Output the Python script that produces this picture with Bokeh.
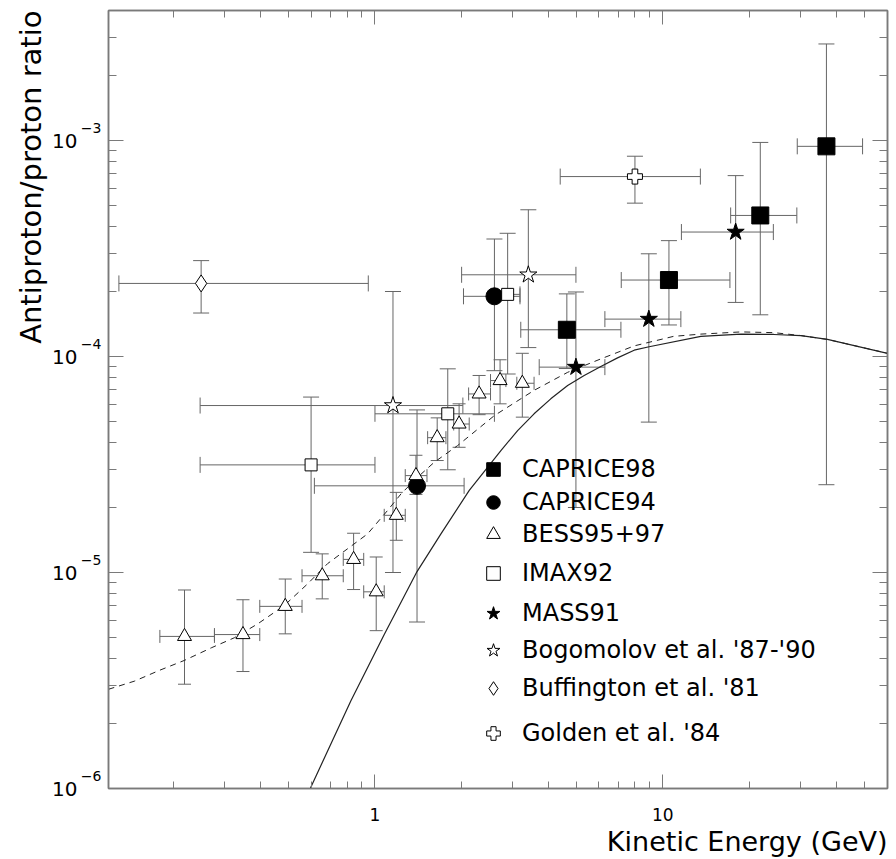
from bokeh.plotting import figure
from bokeh.models import (ColumnDataSource, Whisker, TeeHead, LogAxis, Range1d, Title, LogScale,
                          Legend, LegendItem, FixedTicker, CustomJSTickFormatter)
from bokeh.embed import file_html
from bokeh.resources import INLINE

FONT = "DejaVu Sans"
ERR = "#666666"
AX = "#7a7a7a"

# ---------------- data ----------------
# CAPRICE98
c98_x = [4.64, 10.5, 21.8, 37.0]
c98_y = [1.33e-4, 2.26e-4, 4.5e-4, 9.4e-4]
c98_xlo = [3.21, 7.17, 17.2, 29.3]
c98_xhi = [7.15, 17.1, 29.2, 49.4]
c98_ylo = [8.8e-5, 1.40e-4, 1.56e-4, 2.55e-5]
c98_yhi = [1.95e-4, 3.44e-4, 9.8e-4, 2.8e-3]

# CAPRICE94
c94_x = [1.40, 2.60]
c94_y = [2.52e-5, 1.90e-4]
c94_xlo = [0.616, 2.03]
c94_xhi = [2.04, 3.19]
c94_ylo = [5.9e-6, 8.6e-5]
c94_yhi = [5.66e-5, 3.5e-4]

# BESS95+97
bess_x = [0.218, 0.348, 0.488, 0.656, 0.843, 1.01, 1.186, 1.388, 1.645, 1.96, 2.30, 2.72, 3.25]
bess_y = [5.06e-6, 5.16e-6, 6.97e-6, 9.66e-6, 1.15e-5, 8.14e-6, 1.84e-5, 2.81e-5, 4.21e-5,
          4.87e-5, 6.71e-5, 7.74e-5, 7.52e-5]
bess_xlo = [0.179, 0.277, 0.398, 0.558, 0.776, 0.914, 1.077, 1.274, 1.524, 1.877, 2.115, 2.52, 3.11]
bess_xhi = [0.277, 0.398, 0.558, 0.776, 0.914, 1.077, 1.274, 1.516, 1.764, 2.125, 2.52, 2.85, 3.57]
bess_ylo = [3.04e-6, 3.48e-6, 5.2e-6, 7.55e-6, 8.34e-6, 5.38e-6, 1.41e-5, 2.3e-5, 3.3e-5,
            3.80e-5, 5.38e-5, 6.04e-5, 5.24e-5]
bess_yhi = [8.3e-6, 7.48e-6, 9.33e-6, 1.22e-5, 1.52e-5, 1.18e-5, 2.35e-5, 3.49e-5, 5.2e-5,
            6.04e-5, 8.17e-5, 9.66e-5, 1.035e-4]

# IMAX92
imax_x = [0.60, 1.79, 2.89]
imax_y = [3.15e-5, 5.43e-5, 1.94e-4]
imax_xlo = [0.247, 1.0, 2.60]
imax_xhi = [1.0, 2.60, 3.19]
imax_ylo = [1.24e-5, 2.99e-5, 8.3e-5]
imax_yhi = [6.49e-5, 8.77e-5, 3.72e-4]

# MASS91
mass_x = [4.99, 8.94, 17.9]
mass_y = [8.93e-5, 1.49e-4, 3.77e-4]
mass_xlo = [3.72, 6.29, 11.6]
mass_xhi = [6.29, 11.55, 24.2]
mass_ylo = [2.0e-5, 4.97e-5, 1.78e-4]
mass_yhi = [1.99e-4, 2.99e-4, 6.88e-4]

# Bogomolov et al. '87-'90
bogo_x = [1.155, 3.41]
bogo_y = [5.93e-5, 2.39e-4]
bogo_xlo = [0.247, 2.0]
bogo_xhi = [2.02, 4.99]
bogo_ylo = [1.0e-5, 1.10e-4]
bogo_yhi = [2.0e-4, 4.78e-4]

# Buffington et al. '81
buff_x = [0.249]
buff_y = [2.18e-4]
buff_xlo = [0.129]
buff_xhi = [0.948]
buff_ylo = [1.59e-4]
buff_yhi = [2.78e-4]

# Golden et al. '84
gold_x = [8.0]
gold_y = [6.81e-4]
gold_xlo = [4.40]
gold_xhi = [13.5]
gold_ylo = [5.13e-4]
gold_yhi = [8.46e-4]

# model curves
dash_x = [0.1187, 0.146, 0.178, 0.218, 0.270, 0.325, 0.392, 0.484, 0.584, 0.685, 0.943, 1.107,
          1.231, 1.406, 1.607, 1.937, 2.60, 3.57, 4.67, 6.09, 7.95, 10.9, 13.55, 18.7, 24.3,
          30.2, 37.3, 60.3]
dash_y = [2.88e-6, 3.14e-6, 3.52e-6, 3.92e-6, 4.48e-6, 4.99e-6, 5.79e-6, 7.03e-6, 8.87e-6,
          1.10e-5, 1.51e-5, 1.94e-5, 2.31e-5, 2.76e-5, 3.24e-5, 3.87e-5, 5.33e-5, 6.97e-5,
          8.45e-5, 9.75e-5, 1.12e-4, 1.24e-4, 1.27e-4, 1.30e-4, 1.29e-4, 1.25e-4, 1.20e-4,
          1.035e-4]
solid_x = [0.596, 0.825, 1.077, 1.40, 1.695, 2.126, 2.738, 3.13, 3.57, 4.08,
           4.67, 5.33, 6.09, 6.96, 7.95, 8.96, 13.55, 18.7, 24.3, 30.2, 37.3, 60.3]
solid_y = [1.0e-6, 2.55e-6, 5.16e-6, 1.01e-5, 1.51e-5, 2.40e-5, 3.67e-5,
           4.54e-5, 5.43e-5, 6.37e-5, 7.34e-5, 8.17e-5, 8.99e-5, 9.86e-5, 1.07e-4, 1.11e-4,
           1.24e-4, 1.27e-4, 1.265e-4, 1.25e-4, 1.20e-4, 1.035e-4]

x_major = [1, 10]
x_tick_labels = ["1", "10"]
x_minor = [0.2, 0.3, 0.4, 0.5, 0.6, 0.7, 0.8, 0.9, 2, 3, 4, 5, 6, 7, 8, 9, 20, 30, 40, 50]
y_major = [1e-6, 1e-5, 1e-4, 1e-3]
y_tick_base = ["10", "10", "10", "10"]
y_tick_exp = ["−6", "−5", "−4", "−3"]
y_minor = [m * d for d in (1e-6, 1e-5, 1e-4) for m in range(2, 10)] + [2e-3, 3e-3]

legend_labels = ["CAPRICE98", "CAPRICE94", "BESS95+97", "IMAX92", "MASS91",
                 "Bogomolov et al. '87-'90", "Buffington et al. '81", "Golden et al. '84"]

X0, X1 = 0.1187, 60.3
Y0, Y1 = 1e-6, 4.0e-3
SUP_RAISE = 10 ** (-13 / 216)   # lifts the exponent labels ~13 px (216 px per decade)

# ---------------- figure ----------------
p = figure(width=896, height=859, x_axis_type="log", y_axis_type="log",
           x_range=Range1d(X0, X1), y_range=Range1d(Y0, Y1),
           output_backend="svg", toolbar_location=None,
           min_border_left=108, min_border_right=9, min_border_top=10, min_border_bottom=71)
p.extra_y_ranges = {"sup": Range1d(Y0 * SUP_RAISE, Y1 * SUP_RAISE)}
p.extra_y_scales = {"sup": LogScale()}
p.xgrid.visible = False
p.ygrid.visible = False
p.outline_line_color = AX
p.outline_line_width = 1.5
p.background_fill_color = "white"
p.border_fill_color = "white"

xt = FixedTicker(ticks=x_major, minor_ticks=x_minor)
yt = FixedTicker(ticks=y_major, minor_ticks=y_minor)


def style_axis(ax, ticker, major_len, minor_len, labels):
    ax.ticker = ticker
    ax.axis_line_color = AX
    ax.axis_line_width = 1.5
    ax.major_tick_line_color = AX
    ax.minor_tick_line_color = AX
    ax.major_tick_in = major_len
    ax.major_tick_out = 0
    ax.minor_tick_in = minor_len
    ax.minor_tick_out = 0
    if not labels:
        ax.formatter = CustomJSTickFormatter(code="return ''")
        ax.major_label_text_font_size = "2px"
        ax.major_label_standoff = 0


def label_only_axis(ax, ticks, texts, size, standoff):
    ax.ticker = FixedTicker(ticks=ticks, minor_ticks=[])
    ax.major_label_overrides = dict(zip(ticks, texts))
    ax.axis_line_color = None
    ax.major_tick_line_color = None
    ax.minor_tick_line_color = None
    ax.major_tick_in = 0
    ax.major_tick_out = 0
    ax.minor_tick_in = 0
    ax.minor_tick_out = 0
    ax.major_label_standoff = standoff
    ax.major_label_text_font = FONT
    ax.major_label_text_font_size = size
    ax.major_label_text_color = "black"


# bottom axis
style_axis(p.xaxis[0], xt, 14, 7, True)
p.xaxis[0].major_label_overrides = dict(zip(x_major, x_tick_labels))
p.xaxis[0].major_label_text_font = FONT
p.xaxis[0].major_label_text_font_size = "17px"
p.xaxis[0].major_label_text_color = "black"
p.xaxis[0].major_label_standoff = 19

# left: tick axis at the frame, then exponent labels, then the "10" bases
style_axis(p.yaxis[0], yt, 15, 8, False)
exp_ax = LogAxis(y_range_name="sup")
label_only_axis(exp_ax, y_major, y_tick_exp, "14px", 7)
p.add_layout(exp_ax, "left")
base_ax = LogAxis()
label_only_axis(base_ax, y_major, y_tick_base, "20px", 0)
p.add_layout(base_ax, "left")

top_ax = LogAxis()
style_axis(top_ax, xt, 14, 7, False)
p.add_layout(top_ax, "above")
right_ax = LogAxis()
style_axis(right_ax, yt, 15, 8, False)
p.add_layout(right_ax, "right")

# axis titles
p.add_layout(Title(text="Kinetic Energy (GeV)", align="right", standoff=0,
                   text_font=FONT, text_font_size="27px", text_font_style="normal",
                   text_color="black"), "below")
p.add_layout(Title(text="Antiproton/proton ratio", align="right", standoff=4,
                   text_font=FONT, text_font_size="29px", text_font_style="normal",
                   text_color="black"), "left")

# curves
p.line(dash_x, dash_y, line_color="#222222", line_width=1, line_dash="6 5")
p.line(solid_x, solid_y, line_color="#222222", line_width=1.2)


def add_series(xs, ys, xlo, xhi, ylo, yhi, marker, size, fill, cap):
    src = ColumnDataSource(dict(x=xs, y=ys, xlo=xlo, xhi=xhi, ylo=ylo, yhi=yhi))
    for dim, base, lo, hi in (("width", "y", "xlo", "xhi"), ("height", "x", "ylo", "yhi")):
        w = Whisker(source=src, base=base, lower=lo, upper=hi, dimension=dim,
                    line_color=ERR, line_width=1, level="underlay",
                    upper_head=TeeHead(size=cap, line_color=ERR, line_width=1),
                    lower_head=TeeHead(size=cap, line_color=ERR, line_width=1))
        p.add_layout(w)
    return p.scatter("x", "y", source=src, marker=marker, size=size,
                     fill_color=fill, line_color="black", line_width=1)


renderers = [
    add_series(c98_x, c98_y, c98_xlo, c98_xhi, c98_ylo, c98_yhi, "square", 17, "black", 16),
    add_series(c94_x, c94_y, c94_xlo, c94_xhi, c94_ylo, c94_yhi, "circle", 17, "black", 16),
    add_series(bess_x, bess_y, bess_xlo, bess_xhi, bess_ylo, bess_yhi, "triangle", 14, "white", 13),
    add_series(imax_x, imax_y, imax_xlo, imax_xhi, imax_ylo, imax_yhi, "square", 12, "white", 16),
    add_series(mass_x, mass_y, mass_xlo, mass_xhi, mass_ylo, mass_yhi, "star", 18, "black", 16),
    add_series(bogo_x, bogo_y, bogo_xlo, bogo_xhi, bogo_ylo, bogo_yhi, "star", 18, "white", 16),
    add_series(buff_x, buff_y, buff_xlo, buff_xhi, buff_ylo, buff_yhi, "diamond", 17, "white", 16),
    add_series(gold_x, gold_y, gold_xlo, gold_xhi, gold_ylo, gold_yhi, "plus", 15, "white", 16),
]

# legend rows (canvas centre y of each row)
row_centres = [469, 502, 534, 573, 613, 650, 688, 733]
for r, lab, yc in zip(renderers, legend_labels, row_centres):
    lg = Legend(items=[LegendItem(label=lab, renderers=[r])],
                location=(368, 788 - (yc + 17)), padding=0, margin=0, spacing=0,
                glyph_width=34, glyph_height=34, label_height=34, label_standoff=12,
                border_line_color=None, background_fill_alpha=0,
                label_text_font=FONT, label_text_font_size="24px",
                label_text_color="black", label_text_baseline="middle")
    p.add_layout(lg)

open("out.html", "w").write(file_html(p, INLINE))
